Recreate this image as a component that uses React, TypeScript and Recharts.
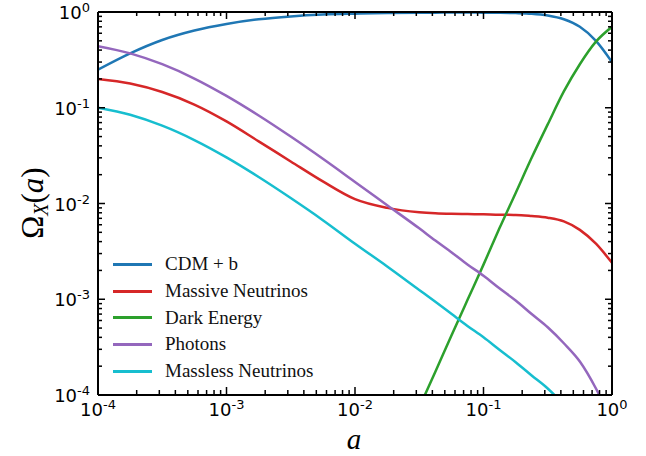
import { LineChart, Line, XAxis, YAxis, Legend, Label } from "recharts"

// scale factor a, sampled every quarter decade (plus a few extra points late on)
const aValues = [
  1e-4, 1.78e-4, 3.16e-4, 5.62e-4, 1e-3, 1.78e-3, 3.16e-3, 5.62e-3, 1e-2, 0.0178, 0.0316, 0.0422,
  0.0562, 0.075, 0.1, 0.133, 0.178, 0.237, 0.316, 0.422, 0.562, 0.75, 1,
]

const cdmB = [
  0.25, 0.37, 0.51, 0.64, 0.75, 0.84, 0.9, 0.94, 0.96, 0.975, 0.982, 0.984, 0.986, 0.986, 0.985,
  0.982, 0.975, 0.96, 0.92, 0.84, 0.7, 0.5, 0.3,
]
const massiveNu = [
  0.2, 0.179, 0.146, 0.108, 0.072, 0.0446, 0.0275, 0.017, 0.0111, 0.009, 0.0081, 0.0079, 0.0078,
  0.00775, 0.0077, 0.00762, 0.0076, 0.0074, 0.0071, 0.0065, 0.0053, 0.0038, 0.0024,
]
const darkEnergy = [
  null, null, null, null, null, null, null, null, null, null, 7.4e-5, 1.75e-4, 4.15e-4, 9.8e-4,
  0.0023, 0.0055, 0.0129, 0.03, 0.067, 0.148, 0.285, 0.49, 0.7,
]
const photons = [
  0.44, 0.37, 0.285, 0.202, 0.133, 0.083, 0.05, 0.0293, 0.0168, 0.0096, 0.0055, 0.0041, 0.0031,
  0.00231, 0.00176, 0.0013, 9.7e-4, 7.0e-4, 5.1e-4, 3.47e-4, 2.24e-4, 1.17e-4, 5.2e-5,
]
const masslessNu = [
  0.1, 0.0845, 0.065, 0.046, 0.0303, 0.0189, 0.0114, 0.0067, 0.0038, 0.0022, 0.00125, 9.4e-4,
  7.05e-4, 5.27e-4, 4.0e-4, 2.97e-4, 2.2e-4, 1.6e-4, 1.17e-4, 7.9e-5, 5.1e-5, null, null,
]

const seriesKeys = ["cdm", "mnu", "de", "gamma", "nu"]
const seriesNames = ["CDM + b", "Massive Neutrinos", "Dark Energy", "Photons", "Massless Neutrinos"]
const seriesColors = ["#1f77b4", "#d62728", "#2ca02c", "#9467bd", "#17becf"]

const decades = [1e-4, 1e-3, 1e-2, 1e-1, 1]
const logTicks = decades.flatMap((d, i) =>
  i < decades.length - 1 ? [1, 2, 3, 4, 5, 6, 7, 8, 9].map((m) => d * m) : [d]
)

const data = aValues.map((a, i) => ({
  a,
  cdm: cdmB[i],
  mnu: massiveNu[i],
  de: darkEnergy[i],
  gamma: photons[i],
  nu: masslessNu[i],
}))

const isMajor = (v: number) => {
  const l = Math.log10(v)
  return Math.abs(l - Math.round(l)) < 1e-6
}

const MAJOR = 7
const MINOR = 4
const tickFont = { fontFamily: "DejaVu Sans", fontSize: 18, fill: "#000" }

const Pow = ({ v }: { v: number }) => (
  <>
    10
    <tspan dy={-7} fontSize={13}>
      {String(Math.round(Math.log10(v)))}
    </tspan>
  </>
)

// axes are 1px thick boxes, so the tick anchor sits 1px off the frame line on bottom/left
const BottomTick = (props: any) => {
  const { x, payload } = props
  const y = props.y - 1
  const major = isMajor(payload.value)
  return (
    <g>
      <line x1={x} x2={x} y1={y} y2={y - (major ? MAJOR : MINOR)} stroke="#000" strokeWidth={1.5} />
      {major && (
        <text x={x} y={y + 22} textAnchor="middle" {...tickFont}>
          <Pow v={payload.value} />
        </text>
      )}
    </g>
  )
}

const TopTick = (props: any) => {
  const { x, y, payload } = props
  const major = isMajor(payload.value)
  return <line x1={x} x2={x} y1={y} y2={y + (major ? MAJOR : MINOR)} stroke="#000" strokeWidth={1.5} />
}

const LeftTick = (props: any) => {
  const { x, y, payload } = props
  const major = isMajor(payload.value)
  return (
    <g>
      <line x1={x} x2={x + (major ? MAJOR : MINOR)} y1={y} y2={y} stroke="#000" strokeWidth={1.5} />
      {major && (
        <text x={x - 8} y={y + 7} textAnchor="end" {...tickFont}>
          <Pow v={payload.value} />
        </text>
      )}
    </g>
  )
}

const RightTick = (props: any) => {
  const { x, y, payload } = props
  const major = isMajor(payload.value)
  return <line x1={x} x2={x - (major ? MAJOR : MINOR)} y1={y} y2={y} stroke="#000" strokeWidth={1.5} />
}

const renderLegend = () => (
  <div style={{ fontFamily: "Liberation Serif", fontSize: 19, color: "#111" }}>
    {seriesNames.map((name, i) => (
      <div key={name} style={{ display: "flex", alignItems: "center", height: 26.7 }}>
        <div style={{ width: 39, height: 3, background: seriesColors[i], marginRight: 13 }} />
        <span>{name}</span>
      </div>
    ))}
  </div>
)

const axisLine = { stroke: "#000", strokeWidth: 2 }

const logAxis = {
  type: "number" as const,
  scale: "log" as const,
  domain: [1e-4, 1],
  ticks: logTicks,
  interval: 0,
  allowDataOverflow: true,
  tickSize: 0,
  tickMargin: 0,
  axisLine,
}

export default function App() {
  return (
    <div style={{ position: "absolute", left: 0, top: 0, background: "#fff" }}>
      <LineChart width={646} height={456} data={data} margin={{ top: 11, right: 33, bottom: 60, left: 97 }}>
        <XAxis dataKey="a" {...logAxis} height={1} tick={<BottomTick />}>
          <Label
            content={() => (
              <text x={354} y={449} textAnchor="middle" fontFamily="Liberation Serif" fontStyle="italic" fontSize={29}>
                a
              </text>
            )}
          />
        </XAxis>
        <XAxis xAxisId="top" orientation="top" dataKey="a" {...logAxis} height={1} tick={<TopTick />} />
        <YAxis {...logAxis} width={1} tick={<LeftTick />}>
          <Label
            content={() => (
              <text
                transform="translate(43, 203) rotate(-90)"
                textAnchor="middle"
                fontFamily="Liberation Serif"
                fontSize={31}
              >
                Ω
                <tspan fontSize={20} fontStyle="italic" dy={5}>
                  X
                </tspan>
                <tspan dy={-5}>(</tspan>
                <tspan fontStyle="italic">a</tspan>)
              </text>
            )}
          />
        </YAxis>
        <YAxis yAxisId="right" orientation="right" {...logAxis} width={1} tick={<RightTick />} />
        <Legend
          layout="vertical"
          align="center"
          verticalAlign="middle"
          wrapperStyle={{ left: 113, top: 251, width: 260 }}
          content={renderLegend}
        />
        {seriesKeys.map((k, i) => (
          <Line
            key={k}
            dataKey={k}
            name={seriesNames[i]}
            stroke={seriesColors[i]}
            strokeWidth={2.5}
            type="monotone"
            dot={false}
            connectNulls
            isAnimationActive={false}
          />
        ))}
      </LineChart>
    </div>
  )
}
